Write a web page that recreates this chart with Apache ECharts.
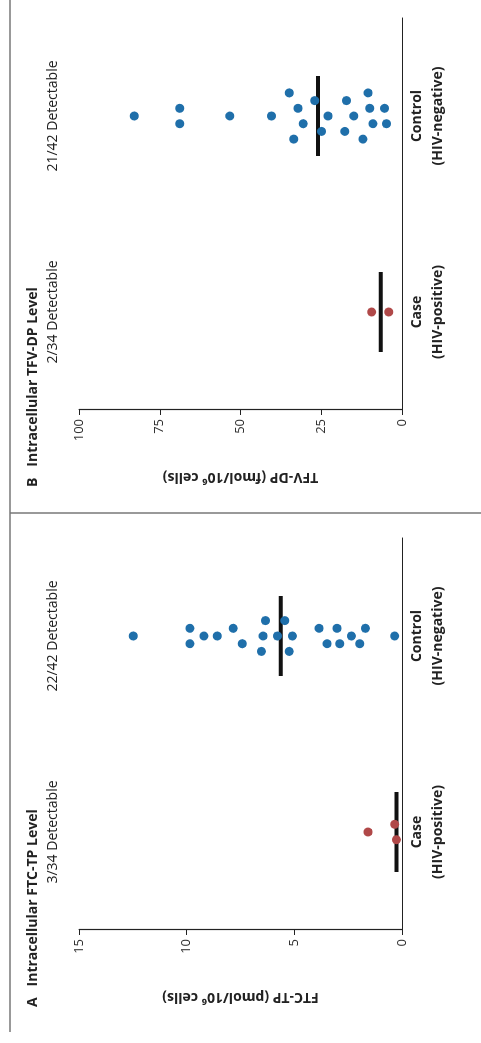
<!DOCTYPE html>
<html>
<head>
<meta charset="utf-8">
<script src="https://cdn.jsdelivr.net/npm/echarts@6/dist/echarts.min.js"></script>
<style>
html, body { margin: 0; padding: 0; background: #fff; overflow: hidden; }
/* the figure is printed sideways: draw it upright, then turn the box */
#main { position: absolute; left: 0; top: 0; width: 1043px; height: 481px;
  transform-origin: 0 0; transform: translateY(1043px) rotate(-90deg); }
</style>
</head>
<body>
<div id="main"></div>
<script>
const groups = ['Case', 'Control'];
const groupNotes = ['(HIV-positive)', '(HIV-negative)'];

// A: FTC-TP (pmol/10^6 cells)
const ftcCase = [1.58, 0.34, 0.26];
const ftcCaseLane = [0, 1, -1];
const ftcControl = [12.48, 9.85, 9.85, 9.2, 8.58, 7.84, 7.42, 6.53, 6.34, 6.45, 5.78,
  5.44, 5.09, 5.24, 3.85, 3.48, 3.02, 2.89, 2.35, 1.96, 1.7, 0.34];
const ftcControlLane = [0, 1, -1, 0, 0, 1, -1, -2, 2, 0, 0, 2, 0, -2, 1, -1, 1, -1, 0, -1, 1, 0];
const ftcMedian = [0.26, 5.63];
const ftcTicks = [0, 15, 5];
const ftcDetect = ['3/34 Detectable', '22/42 Detectable'];

// B: TFV-DP (fmol/10^6 cells)
const tfvCase = [9.4, 4.1];
const tfvCaseLane = [0, 0];
const tfvControl = [82.9, 68.8, 68.8, 53.3, 40.4, 34.9, 33.5, 32.2, 30.6, 27.0, 24.9,
  22.9, 17.2, 17.7, 14.9, 12.1, 10.5, 10.0, 9.0, 5.4, 4.8];
const tfvControlLane = [0, 1, -1, 0, 0, 3, -3, 1, -1, 2, -2, 0, 2, -2, 0, -3, 3, 1, -1, 1, -1];
const tfvMedian = [6.6, 26.0];
const tfvTicks = [0, 100, 25];
const tfvDetect = ['2/34 Detectable', '21/42 Detectable'];

const LANE = 7.7;
const BLUE = '#1f6faa';
const RED = '#b04848';
const FONT = '"Open Sans", sans-serif';

function dots(values, lanes, cat) {
  return values.map((v, i) => ({ value: [cat, v], symbolOffset: [lanes[i] * LANE, 0] }));
}

function panel(idx, left, ticks, name) {
  const grid = { left: left, top: 79, width: 392, height: 323 };
  const x = {
    type: 'category', gridIndex: idx, data: groups,
    axisLine: { lineStyle: { color: '#222', width: 1.2 } },
    axisTick: { show: false },
    axisLabel: {
      margin: 5, interval: 0,
      formatter: (v, i) => '{a|' + v + '}\n{b|' + groupNotes[i] + '}',
      rich: {
        a: { fontFamily: FONT, fontSize: 14, fontWeight: 'bold', color: '#222', lineHeight: 21 },
        b: { fontFamily: FONT, fontSize: 14, fontWeight: 'bold', color: '#222', lineHeight: 21 }
      }
    }
  };
  const y = {
    type: 'value', gridIndex: idx, min: ticks[0], max: ticks[1], interval: ticks[2],
    name: name, nameLocation: 'middle', nameGap: 60,
    nameTextStyle: { fontFamily: FONT, fontSize: 14, fontWeight: 'bold', color: '#222' },
    axisLine: { show: true, lineStyle: { color: '#222', width: 1.2 } },
    axisTick: { show: true, length: 5, lineStyle: { color: '#222' } },
    axisLabel: { margin: 9, fontFamily: FONT, fontSize: 13, color: '#333' },
    splitLine: { show: false }
  };
  return { grid, x, y };
}

function seriesFor(idx, caseVals, caseLane, ctrlVals, ctrlLane, median) {
  return [
    {
      type: 'scatter', xAxisIndex: idx, yAxisIndex: idx, z: 2,
      symbol: 'rect', symbolSize: [80, 4], itemStyle: { color: '#111', opacity: 1 },
      data: median.map((m, i) => [i, m])
    },
    {
      type: 'scatter', xAxisIndex: idx, yAxisIndex: idx, z: 3,
      symbolSize: 9, itemStyle: { color: RED, opacity: 1 },
      data: dots(caseVals, caseLane, 0)
    },
    {
      type: 'scatter', xAxisIndex: idx, yAxisIndex: idx, z: 3,
      symbolSize: 9, itemStyle: { color: BLUE, opacity: 1 },
      data: dots(ctrlVals, ctrlLane, 1)
    }
  ];
}

const pA = panel(0, 113, ftcTicks, 'FTC-TP (pmol/10⁶ cells)');
const pB = panel(1, 633, tfvTicks, 'TFV-DP (fmol/10⁶ cells)');

function label(x, y, text) {
  return {
    type: 'text', x: x, y: y,
    style: { text: text, align: 'center', verticalAlign: 'middle',
      font: '14px ' + FONT, fill: '#222' }
  };
}
function heading(x, letter, text) {
  return {
    type: 'text', x: x, y: 33,
    style: { text: letter + '   ' + text, align: 'left', verticalAlign: 'middle',
      font: 'bold 14px ' + FONT, fill: '#222' }
  };
}

const chart = echarts.init(document.getElementById('main'), null, { renderer: 'canvas' });
chart.setOption({
  backgroundColor: '#fff',
  animation: false,
  grid: [pA.grid, pB.grid],
  xAxis: [pA.x, pB.x],
  yAxis: [pA.y, pB.y],
  series: seriesFor(0, ftcCase, ftcCaseLane, ftcControl, ftcControlLane, ftcMedian)
    .concat(seriesFor(1, tfvCase, tfvCaseLane, tfvControl, tfvControlLane, tfvMedian)),
  graphic: [
    heading(36, 'A', 'Intracellular FTC-TP Level'),
    heading(556, 'B', 'Intracellular TFV-DP Level'),
    label(211, 53, ftcDetect[0]),
    label(407, 53, ftcDetect[1]),
    label(731, 53, tfvDetect[0]),
    label(927, 53, tfvDetect[1]),
    { type: 'line', shape: { x1: 11, y1: 10, x2: 1043, y2: 10 },
      style: { stroke: '#777', lineWidth: 1.5 } },
    { type: 'line', shape: { x1: 530, y1: 10, x2: 530, y2: 481 },
      style: { stroke: '#777', lineWidth: 1.5 } }
  ]
});
</script>
</body>
</html>
